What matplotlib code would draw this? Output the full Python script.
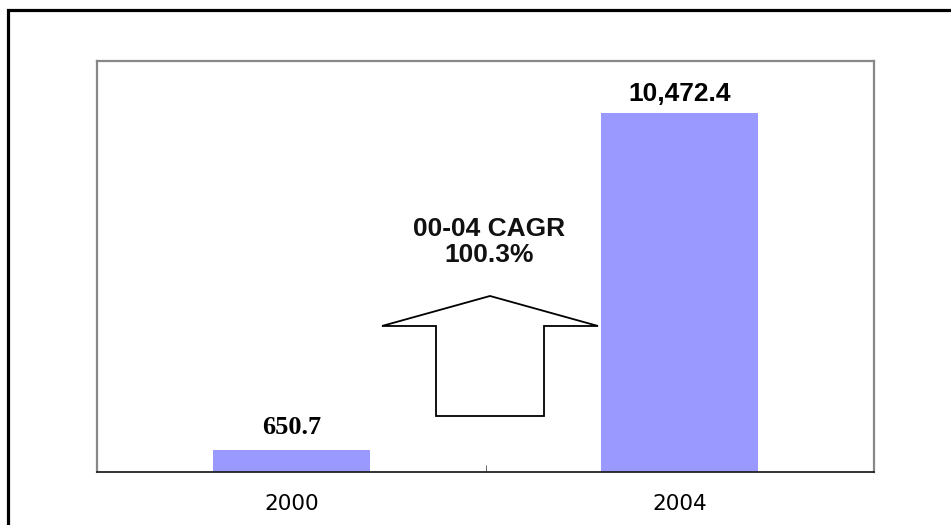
import matplotlib
matplotlib.use("Agg")
import matplotlib.pyplot as plt
from matplotlib.patches import Polygon, Rectangle

categories = ["2000", "2004"]
values = [650.7, 10472.4]
value_labels = ["650.7", "10,472.4"]
label_fonts = ["Liberation Serif", "Liberation Sans"]
cagr_text = "00-04 CAGR\n100.3%"

W, H = 951, 525
fig = plt.figure(figsize=(W / 100, H / 100), dpi=100)
fig.patch.set_facecolor("white")

# outer frame (extends beyond right / bottom edges)
fig.add_artist(Rectangle((8 / W, -0.1), 1.2, 1 - 10 / H + 0.1,
                         transform=fig.transFigure, fill=False,
                         edgecolor="black", linewidth=2.3))

ax = fig.add_axes([97 / W, 1 - 472 / H, (874 - 97) / W, (472 - 61) / H])
x = list(range(len(categories)))
ax.bar(x, values, width=0.404, color="#9999FF", edgecolor="none", zorder=2)
ax.set_xlim(-0.5, 1.5)
ax.set_ylim(0, 12000)
ax.set_yticks([])
ax.set_xticks(x)
ax.set_xticklabels(categories, fontsize=15.5, family="DejaVu Sans")
ax.tick_params(axis="x", length=0, pad=15.5)
ax.set_xticks([0.5], minor=True)
ax.tick_params(axis="x", which="minor", direction="in", length=5, color="#555555")

for s in ["left", "top", "right"]:
    ax.spines[s].set_color("#888888")
    ax.spines[s].set_linewidth(1.6)
ax.spines["bottom"].set_color("#222222")
ax.spines["bottom"].set_linewidth(1.3)

offsets = [11, 8.6]
for xi, v, lab, fnt, off in zip(x, values, value_labels, label_fonts, offsets):
    ax.annotate(lab, (xi, v), xytext=(0, off), textcoords="offset points",
                ha="center", va="baseline", fontsize=19, fontweight="bold",
                family=fnt)

# CAGR arrow (block arrow outline)
arrow_x = [0.5116, 0.7896, 0.6506, 0.6506, 0.3726, 0.3726, 0.2336]
arrow_y = [5139, 4263, 4263, 1635, 1635, 4263, 4263]
ax.add_patch(Polygon(list(zip(arrow_x, arrow_y)), closed=True, fill=True,
                     facecolor="white", edgecolor="black", linewidth=1.3, zorder=3))

ax.text(0.51, 6131, cagr_text, ha="center", va="baseline", fontsize=19,
        fontweight="bold", family="Liberation Sans", linespacing=1.12,
        color="#111111")

fig.savefig("out.png", dpi=100)
